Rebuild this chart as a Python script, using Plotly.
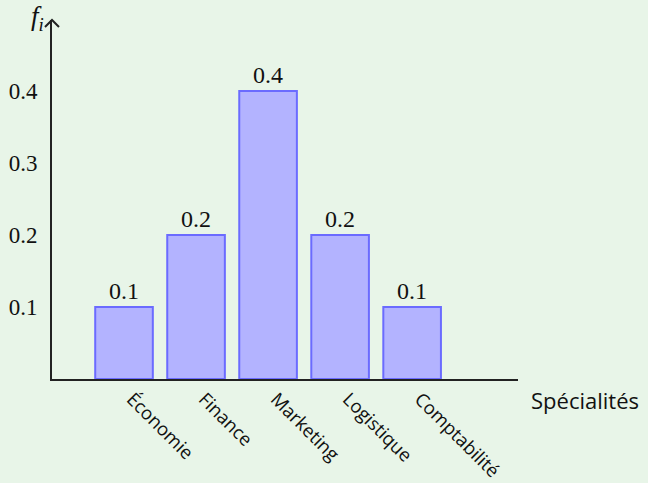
import plotly.graph_objects as go

categories = ["Économie", "Finance", "Marketing", "Logistique", "Comptabilité"]
frequencies = [0.1, 0.2, 0.4, 0.2, 0.1]
value_labels = ["0.1", "0.2", "0.4", "0.2", "0.1"]
y_ticks = [0.1, 0.2, 0.3, 0.4]
y_tick_labels = ["0.1", "0.2", "0.3", "0.4"]

positions = list(range(1, len(categories) + 1))

BG = "#e8f5e8"
serif = "Liberation Serif, DejaVu Serif, serif"
sans = "Open Sans, Lato, DejaVu Sans, sans-serif"

fig = go.Figure()
fig.add_trace(go.Bar(
    x=positions,
    y=frequencies,
    width=0.8,
    marker=dict(color="#b3b3ff", line=dict(color="#6b6bff", width=2)),
    text=value_labels,
    textposition="outside",
    textfont=dict(family=serif, size=24, color="#111"),
    cliponaxis=False,
    hoverinfo="skip",
))

fig.update_layout(
    width=648, height=483,
    margin=dict(l=52, r=130, t=20, b=104, autoexpand=False),
    paper_bgcolor=BG, plot_bgcolor=BG,
    showlegend=False,
    bargap=0.2,
    xaxis=dict(
        range=[0, 6.47], tickmode="array", tickvals=positions, ticktext=categories,
        tickangle=45, showgrid=False, zeroline=False, automargin=False,
        showline=True, linecolor="#222", linewidth=2,
        ticks="", ticklen=0, ticklabelshift=8,
        tickfont=dict(family=sans, size=18.5, color="#111"),
    ),
    yaxis=dict(
        range=[0, 0.4986], tickmode="array", tickvals=y_ticks, ticktext=y_tick_labels,
        showgrid=False, zeroline=False, automargin=False,
        showline=True, linecolor="#222", linewidth=2,
        ticks="outside", ticklen=8, tickcolor="rgba(0,0,0,0)",
        tickfont=dict(family=serif, size=23, color="#111"),
    ),
    shapes=[
        dict(type="path", xref="paper", yref="paper", xsizemode="pixel", ysizemode="pixel",
             xanchor=0, yanchor=1,
             path="M -7,-7 Q -2,-2 0,0 Q 2,-2 7,-7",
             line=dict(color="#222", width=2)),
    ],
    annotations=[
        dict(text="<i>f<sub>i</sub></i>", xref="paper", yref="paper", x=0, y=1,
             xanchor="right", yanchor="middle", xshift=-6, yshift=2, showarrow=False,
             font=dict(family=serif, size=27, color="#111")),
        dict(text="Spécialités", xref="paper", yref="paper", x=1, y=0,
             xanchor="left", yanchor="middle", xshift=11, yshift=-21, showarrow=False,
             font=dict(family=sans, size=22, color="#111")),
    ],
)

fig.write_html(
    "out.html",
    config={"responsive": False, "displayModeBar": False},
    post_script="document.body.style.margin='0';document.body.style.background='%s';" % BG,
)
